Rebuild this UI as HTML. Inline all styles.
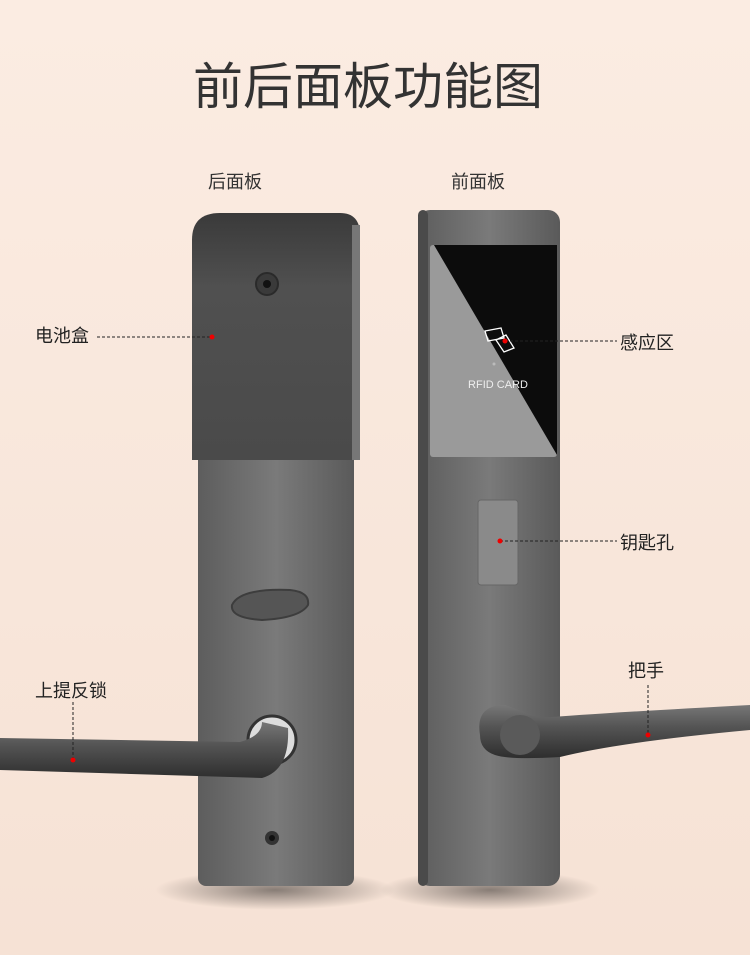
<!DOCTYPE html>
<html><head><meta charset="utf-8"><style>
body{margin:0;width:750px;height:955px;overflow:hidden;background:linear-gradient(#fbece2,#f6e2d5);font-family:"Liberation Sans","Noto Sans CJK SC",sans-serif;}
</style></head><body>
<svg width="750" height="955" viewBox="0 0 750 955" xmlns="http://www.w3.org/2000/svg" style="position:absolute;left:0;top:0">
<defs>
<linearGradient id="steel" x1="0" x2="1"><stop offset="0" stop-color="#5d5d5d"/><stop offset="0.5" stop-color="#7a7a7a"/><stop offset="1" stop-color="#5a5a5a"/></linearGradient>
<linearGradient id="box" x1="0" y1="0" x2="0" y2="1"><stop offset="0" stop-color="#3a3a3a"/><stop offset="0.3" stop-color="#505050"/><stop offset="1" stop-color="#4a4a4a"/></linearGradient>
<linearGradient id="hand" x1="0" y1="0" x2="0" y2="1"><stop offset="0" stop-color="#777"/><stop offset="0.4" stop-color="#555"/><stop offset="1" stop-color="#2e2e2e"/></linearGradient>
<radialGradient id="sh"><stop offset="0" stop-color="#000" stop-opacity="0.45"/><stop offset="1" stop-color="#000" stop-opacity="0"/></radialGradient>
</defs>
<text x="368" y="104" font-size="50" text-anchor="middle" fill="#333" font-family="Liberation Sans,Noto Sans CJK SC,sans-serif">前后面板功能图</text>
<text x="235" y="188" font-size="18" text-anchor="middle" fill="#333">后面板</text>
<text x="478" y="188" font-size="18" text-anchor="middle" fill="#333">前面板</text>
<ellipse cx="275" cy="890" rx="120" ry="20" fill="url(#sh)"/>
<ellipse cx="490" cy="890" rx="110" ry="20" fill="url(#sh)"/>
<!-- left plate -->
<rect x="198" y="440" width="156" height="446" rx="8" fill="url(#steel)"/>
<path d="M192 240 Q192 213 220 213 L340 213 Q360 213 360 235 L360 460 L192 460 Z" fill="url(#box)"/>
<rect x="352" y="225" width="8" height="235" fill="#777"/>
<circle cx="267" cy="284" r="11" fill="#3a3a3a" stroke="#2a2a2a" stroke-width="2"/><circle cx="267" cy="284" r="4" fill="#111"/>
<path d="M232 605 Q240 588 290 590 Q310 592 308 605 Q300 618 262 620 Q230 618 232 605Z" fill="#555" stroke="#3d3d3d" stroke-width="2"/>
<circle cx="272" cy="838" r="7" fill="#333"/><circle cx="272" cy="838" r="3" fill="#111"/>
<!-- left handle -->
<circle cx="272" cy="740" r="24" fill="#ddd" stroke="#333" stroke-width="3"/>
<path d="M0 738 L240 742 Q262 736 262 722 L288 728 Q290 770 262 778 L0 770 Z" fill="url(#hand)"/>
<!-- right plate -->
<rect x="418" y="210" width="142" height="676" rx="12" fill="url(#steel)"/>
<rect x="418" y="210" width="10" height="676" rx="5" fill="#4a4a4a"/>
<rect x="430" y="245" width="127" height="212" rx="3" fill="#9a9a9a"/>
<path d="M434 245 L557 245 L557 455 Z" fill="#0c0c0c"/>
<text x="498" y="388" font-size="11" fill="#eee" text-anchor="middle">RFID CARD</text>
<path d="M485 331 l16 -3 l3 10 l-16 3z M496 340 l10 -5 l8 13 l-10 4z" fill="none" stroke="#fff" stroke-width="1.3"/>
<circle cx="494" cy="364" r="1.5" fill="#bbb"/>
<rect x="478" y="500" width="40" height="85" rx="3" fill="#8a8a8a" stroke="#666"/>
<!-- right handle -->
<path d="M480 735 Q475 705 505 705 L540 718 Q600 713 750 705 L750 730 Q620 742 560 757 Q510 760 495 755 Q480 750 480 735Z" fill="url(#hand)"/>
<circle cx="520" cy="735" r="20" fill="#5a5a5a"/>
<!-- labels -->
<g font-size="18" fill="#222">
<text x="35" y="342">电池盒</text>
<text x="620" y="349">感应区</text>
<text x="620" y="549">钥匙孔</text>
<text x="35" y="697">上提反锁</text>
<text x="628" y="677">把手</text>
</g>
<g stroke="#222" stroke-width="1" stroke-dasharray="3,2" fill="none">
<path d="M97 337 L212 337"/><path d="M505 341 L617 341"/><path d="M500 541 L617 541"/>
<path d="M73 702 L73 760"/><path d="M648 685 L648 735"/>
</g>
<g fill="#e00">
<circle cx="212" cy="337" r="2.5"/><circle cx="505" cy="341" r="2.5"/><circle cx="500" cy="541" r="2.5"/><circle cx="73" cy="760" r="2.5"/><circle cx="648" cy="735" r="2.5"/>
</g>
</svg>
</body></html>
